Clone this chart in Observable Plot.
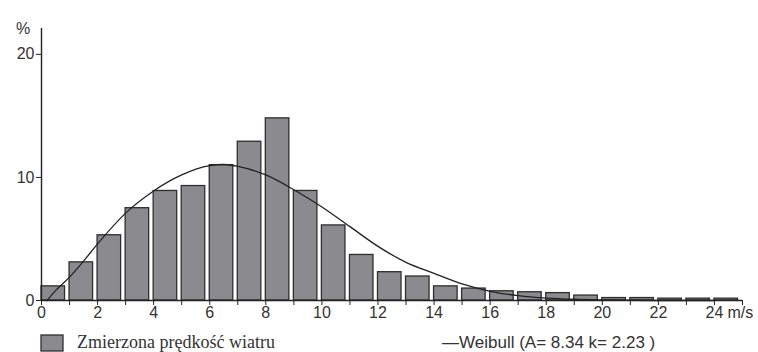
<!DOCTYPE html>
<html><head><meta charset="utf-8">
<script src="https://cdn.jsdelivr.net/npm/d3@7"></script>
<script src="https://cdn.jsdelivr.net/npm/@observablehq/plot@0.6"></script>
<style>
html,body{margin:0;padding:0;background:#fff;}
#wrap{width:758px;height:352px;overflow:hidden;}
#wrap svg{display:block;}
</style></head>
<body><div id="wrap"></div>
<script>
// wind speed bins (m/s), lower edge of each 1 m/s class
const bins = [0,1,2,3,4,5,6,7,8,9,10,11,12,13,14,15,16,17,18,19,20,21,22,23,24];
// measured frequency (%)
const measured = [1.15,3.1,5.3,7.5,8.9,9.3,11.0,12.9,14.8,8.9,6.1,3.7,2.3,1.95,1.15,0.97,0.75,0.67,0.6,0.4,0.2,0.2,0.15,0.15,0.15];
// Weibull curve
const weibullX = [0.2,0.5,1,1.5,2,3,4,5,6,6.5,7,8,9,10,11,12,13,14,15,16,17,18,19,20,21,22,23,24];
const weibullY = [0,0.8,1.9,3.2,4.6,7.1,8.9,10.2,10.95,11.05,10.9,10.2,9.0,7.6,6.0,4.4,3.1,2.2,1.35,0.75,0.4,0.2,0.1,0.05,0.02,0,0,0];
const xTicks = [0,1,2,3,4,5,6,7,8,9,10,11,12,13,14,15,16,17,18,19,20,21,22,23,24,25];
const yTicks = [0,10,20];
const yLabel = "%";
const unitLabel = "m/s";
const legendBars = "Zmierzona prędkość wiatru";
const legendCurve = "\u2014Weibull (A= 8.34 k= 2.23 )";

const bars = bins.map((b,i) => ({bin: b, value: measured[i]}));
const curve = weibullX.map((x,i) => ({x, y: weibullY[i]}));

const plot = Plot.plot({
  width: 758, height: 326,
  marginLeft: 41, marginRight: 16, marginTop: 28, marginBottom: 26,
  style: {fontFamily: "'Liberation Sans', Arial, sans-serif", fontSize: "16px", background: "#fff"},
  x: {domain: [0,25], axis: null},
  y: {domain: [0,22.1], axis: null},
  marks: [
    Plot.rectY(bars, {x1: d => d.bin, x2: d => d.bin + 1, y: "value", insetRight: 4.5, fill: "#8b8b8f", stroke: "#2e2e2e", strokeWidth: 1.3}),
    Plot.line(curve, {x: "x", y: "y", curve: "monotone-x", stroke: "#222", strokeWidth: 1.3}),
    Plot.ruleY([0], {stroke: "#222", strokeWidth: 1.6}),
    Plot.ruleX([0], {stroke: "#222", strokeWidth: 1.4}),
    Plot.axisX(xTicks, {tickSize: 5, tickPadding: 1, stroke: "#222", fill: "#333", fontSize: 16,
      tickFormat: d => d % 2 === 0 && d <= 24 ? String(d) : "", label: null}),
    Plot.axisY(yTicks, {tickSize: 5, tickPadding: 2, stroke: "#222", fill: "#333", fontSize: 16, label: null}),
    Plot.text([unitLabel], {x: [24], y: [0], text: d => d, textAnchor: "start", dx: 13, dy: 12, fill: "#333", fontSize: 16}),
    Plot.text([yLabel], {frameAnchor: "top-left", text: d => d, dx: -25.5, dy: -6, fill: "#333", fontSize: 16})
  ]
});
document.getElementById("wrap").appendChild(plot);

// legend below the plot
const leg = d3.select("#wrap").append("svg").attr("width", 758).attr("height", 26);
leg.append("rect").attr("x", 41).attr("y", 9).attr("width", 22).attr("height", 16)
  .attr("fill", "#8b8b8f").attr("stroke", "#2e2e2e").attr("stroke-width", 1.3);
leg.append("text").attr("x", 77).attr("y", 21.5).text(legendBars)
  .attr("font-family", "'Liberation Serif', 'Times New Roman', serif").attr("font-size", 18).attr("fill", "#333");
leg.append("text").attr("x", 442).attr("y", 22).text(legendCurve)
  .attr("font-family", "'Liberation Sans', Arial, sans-serif").attr("font-size", 17).attr("fill", "#333");
</script>
</body></html>
